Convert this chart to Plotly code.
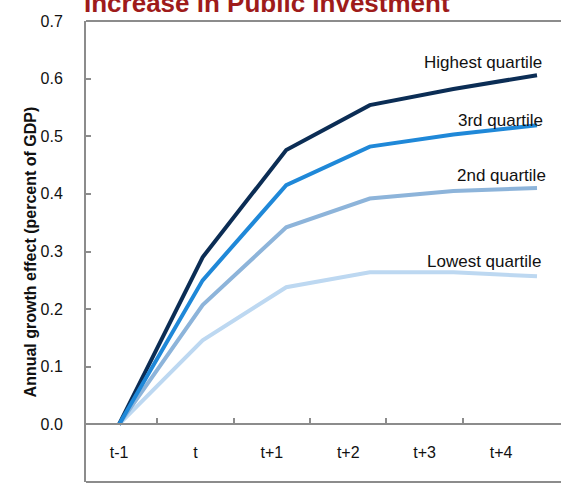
import plotly.graph_objects as go

# Annual growth effect of a public investment increase, by quartile
categories = ["t-1", "t", "t+1", "t+2", "t+3", "t+4"]
highest_quartile = [0.0, 0.290, 0.476, 0.554, 0.582, 0.606]
third_quartile = [0.0, 0.250, 0.415, 0.482, 0.503, 0.519]
second_quartile = [0.0, 0.207, 0.342, 0.392, 0.405, 0.410]
lowest_quartile = [0.0, 0.146, 0.238, 0.264, 0.264, 0.257]

series = [
    ("Lowest quartile", lowest_quartile, "#bdd8f1"),
    ("2nd quartile", second_quartile, "#8db4da"),
    ("Highest quartile", highest_quartile, "#0b2d55"),
    ("3rd quartile", third_quartile, "#1f88d8"),
]

# label anchor (x in data units, y in value units), right-aligned
label_pos = {
    "Highest quartile": (5.08, 0.628),
    "3rd quartile": (5.09, 0.528),
    "2nd quartile": (5.13, 0.432),
    "Lowest quartile": (5.07, 0.283),
}

x = list(range(len(categories)))
label_step = 0.914  # spacing of category labels relative to point spacing

AXIS = "#8c8c8c"
FONT = "Liberation Sans, Arial, sans-serif"

fig = go.Figure()
for name, vals, color in series:
    fig.add_trace(go.Scatter(
        x=x, y=vals, mode="lines", name=name,
        line=dict(color=color, width=4),
        hoverinfo="skip",
    ))

for name, (lx, ly) in label_pos.items():
    fig.add_annotation(
        x=lx, y=ly, xref="x", yref="y", text=name, showarrow=False,
        xanchor="right", yanchor="middle",
        font=dict(family=FONT, size=17, color="#111111"),
    )

# y-axis title
fig.add_annotation(
    x=-0.116, y=0.5, xref="paper", yref="paper",
    text="<b>Annual growth effect (percent of GDP)</b>", textangle=-90,
    showarrow=False, xanchor="center", yanchor="middle",
    font=dict(family=FONT, size=16, color="#111111"),
)

# heading, partly above the page
fig.add_annotation(
    x=0.381, y=1.039, xref="paper", yref="paper",
    text="<b>Increase in Public Investment</b>", showarrow=False,
    xanchor="center", yanchor="middle",
    font=dict(family=FONT, size=26, color="#9e1b1b"),
)

# frame lines at top and bottom of the plot area
for yy in (0, 1):
    fig.add_shape(type="line", xref="paper", yref="paper",
                  x0=0, x1=1, y0=yy, y1=yy,
                  line=dict(color=AXIS, width=2))

fig.update_layout(
    width=561, height=487,
    margin=dict(l=86, r=0, t=21, b=5),
    paper_bgcolor="white", plot_bgcolor="white",
    showlegend=False,
    xaxis=dict(
        range=[-0.395, 5.287],
        anchor="free", position=0.125,
        showgrid=False, zeroline=False,
        showline=True, linecolor=AXIS, linewidth=2,
        tickmode="array",
        tickvals=[i * label_step for i in x],
        ticktext=categories,
        ticks="", ticklabelstandoff=13,
        tickfont=dict(family=FONT, size=16, color="#111111"),
        minor=dict(
            tickmode="array",
            tickvals=[(i + 0.5) * label_step for i in x[:-1]],
            ticks="inside", ticklen=5, tickwidth=2, tickcolor=AXIS,
            showgrid=False,
        ),
    ),
    yaxis=dict(
        range=[-0.1, 0.7],
        tickmode="array",
        tickvals=[-0.1, 0.0, 0.1, 0.2, 0.3, 0.4, 0.5, 0.6, 0.7],
        ticktext=["-0.1", "0.0", "0.1", "0.2", "0.3", "0.4", "0.5", "0.6", "0.7"],
        showgrid=False, zeroline=False,
        showline=True, linecolor=AXIS, linewidth=2,
        ticks="inside", ticklen=5, tickwidth=2, tickcolor=AXIS,
        ticklabelstandoff=18,
        tickfont=dict(family=FONT, size=16, color="#111111"),
    ),
)

fig.write_html("out.html")
